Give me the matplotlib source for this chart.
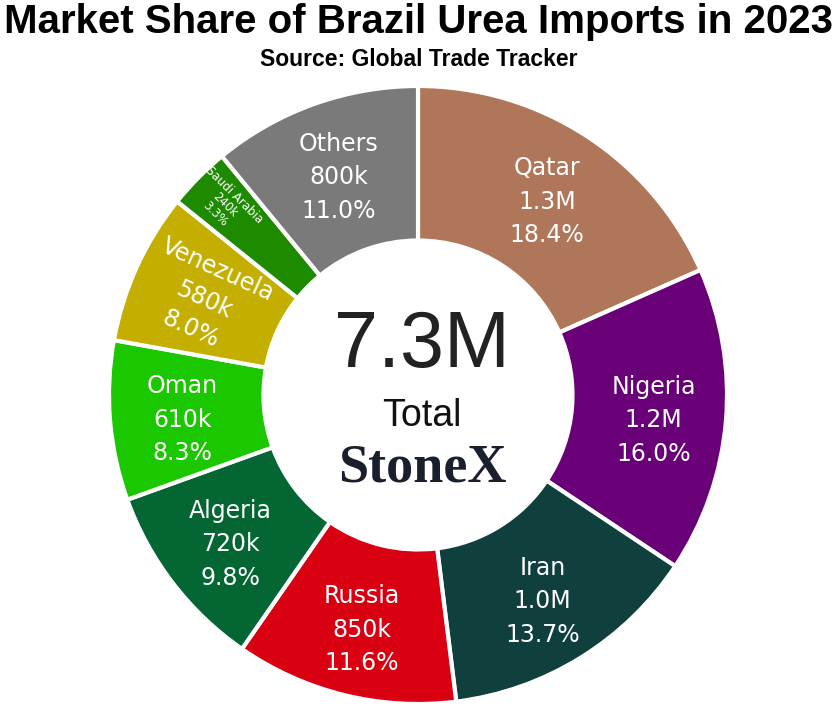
import numpy as np
import matplotlib
matplotlib.use("Agg")
import matplotlib.pyplot as plt

countries = ["Qatar", "Nigeria", "Iran", "Russia", "Algeria", "Oman", "Venezuela", "Saudi Arabia", "Others"]
values_k = [1343, 1168, 1000, 850, 720, 610, 580, 240, 800]
value_labels = ["1.3M", "1.2M", "1.0M", "850k", "720k", "610k", "580k", "240k", "800k"]
pct_labels = ["18.4%", "16.0%", "13.7%", "11.6%", "9.8%", "8.3%", "8.0%", "3.3%", "11.0%"]
colors = ["#b0765a", "#6a0078", "#10403e", "#d90012", "#046632", "#1bc800", "#c4af00", "#1e8a00", "#7a7a7a"]

W, H = 837, 711
fig = plt.figure(figsize=(W / 100, H / 100), dpi=100)
ax = fig.add_axes([0, 0, 1, 1])

cx, cy = 418, H - 395
R = 309
hole = 0.5

wedges, _ = ax.pie(values_k, colors=colors, startangle=90, counterclock=False,
                   radius=R, center=(cx, cy), frame=True,
                   wedgeprops=dict(width=R * (1 - hole), edgecolor="white", linewidth=3))
ax.set_xlim(0, W)
ax.set_ylim(0, H)
ax.set_aspect("equal")
ax.axis("off")

for i, w in enumerate(wedges):
    ang = (w.theta1 + w.theta2) / 2
    rad = np.deg2rad(ang)
    txt = "{}\n{}\n{}".format(countries[i], value_labels[i], pct_labels[i])
    dy = -5
    if countries[i] == "Saudi Arabia":
        r = R * 0.88
        size = 8.5
        rot = ang - 180
        ls = 1.05
        dy = -1
    elif countries[i] == "Venezuela":
        r = R * 0.76
        size = 17
        rot = ang - 180
        ls = 1.45
        dy = -2
    else:
        r = R * 0.765
        size = 17
        rot = 0
        ls = 1.5
    ax.text(cx + r * np.cos(rad), cy + r * np.sin(rad) + dy, txt, ha="center", va="center",
            color="white", fontsize=size, rotation=rot, rotation_mode="anchor",
            linespacing=ls, family="DejaVu Sans")

ax.text(cx + 4, cy + 48, "7.3M", ha="center", va="center", fontsize=57,
        color="#222222", family="Liberation Sans")
ax.text(cx + 4, cy - 21, "Total", ha="center", va="center", fontsize=27,
        color="#111111", family="Liberation Sans")
ax.text(cx + 4, cy - 73, "StoneX", ha="center", va="center", fontsize=39,
        color="#1a1f2e", family="Liberation Serif", fontweight="bold")

fig.text(0.5, 1 - 22 / H, "Market Share of Brazil Urea Imports in 2023", ha="center", va="center",
         fontsize=29, fontweight="bold", family=["Liberation Sans Narrow", "Liberation Sans"])
fig.text(0.5, 1 - 60 / H, "Source: Global Trade Tracker", ha="center", va="center",
         fontsize=16.5, fontweight="bold", family=["Liberation Sans Narrow", "Liberation Sans"])

fig.savefig("out.png", dpi=100, facecolor="white")
